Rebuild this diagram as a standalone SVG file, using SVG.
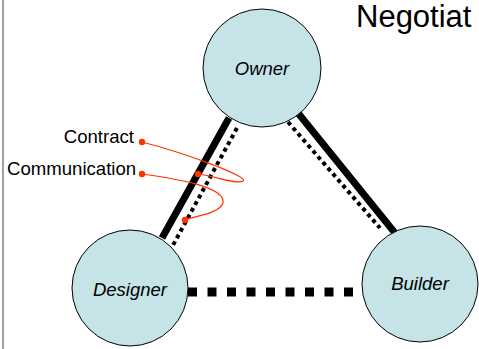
<svg xmlns="http://www.w3.org/2000/svg" width="479" height="349" viewBox="0 0 479 349">
  <style>
    .node circle { fill: #c6e4e8; stroke: #000; stroke-width: 1; }
    .node text { font-family: "Liberation Sans", Arial, sans-serif; font-style: italic; font-size: 18.5px; text-anchor: middle; fill: #000; }
    .solid { stroke: #000; stroke-width: 7; fill: none; }
    .dotted { stroke: #000; stroke-width: 4; stroke-dasharray: 4 3.6; fill: none; }
    .dashed { stroke: #000; stroke-width: 9; stroke-dasharray: 9 10.5; fill: none; }
    .label { font-family: "Liberation Sans", Arial, sans-serif; font-size: 18.6px; fill: #000; }
    .leader { stroke: #ff3300; stroke-width: 1.2; fill: none; }
    .dot { fill: #ff3300; }
  </style>

  <!-- slide frame edge -->
  <line x1="3" y1="0" x2="3" y2="349" stroke="#808080" stroke-width="1.5"/>

  <!-- title at the top right -->
  <text x="356" y="27" font-family="Liberation Sans, Arial, sans-serif" font-size="31" fill="#000">Negotiat</text>

  <g id="connectors">
    <!-- owner to designer -->
    <line class="solid" x1="229" y1="118" x2="162" y2="238"/>
    <line class="dotted" x1="237" y1="128" x2="172" y2="247"/>
    <!-- owner to builder -->
    <line class="solid" x1="298" y1="113" x2="395" y2="233"/>
    <line class="dotted" x1="288" y1="122" x2="380" y2="228"/>
    <!-- designer to builder -->
    <line class="dashed" x1="188" y1="292" x2="353" y2="292"/>
  </g>

  <g id="owner" class="node">
    <circle cx="262" cy="68" r="59"/>
    <text x="262" y="75">Owner</text>
  </g>
  <g id="designer" class="node">
    <circle cx="130" cy="288" r="58"/>
    <text x="130" y="296">Designer</text>
  </g>
  <g id="builder" class="node">
    <circle cx="420" cy="284" r="58"/>
    <text x="420" y="290">Builder</text>
  </g>

  <g id="legend">
    <text class="label" x="134" y="143" text-anchor="end">Contract</text>
    <text class="label" x="7" y="175">Communication</text>
    <path class="leader" d="M142,142 C185,153 250,177 243,181 C237,185 215,176 198,174"/>
    <path class="leader" d="M142,174 C178,179 226,187 223,203 C220,213 196,216 185,220"/>
    <circle class="dot" cx="142" cy="142" r="3.2"/>
    <circle class="dot" cx="198" cy="174" r="3.2"/>
    <circle class="dot" cx="142" cy="174" r="3.2"/>
    <circle class="dot" cx="185" cy="220" r="3.2"/>
  </g>
</svg>
